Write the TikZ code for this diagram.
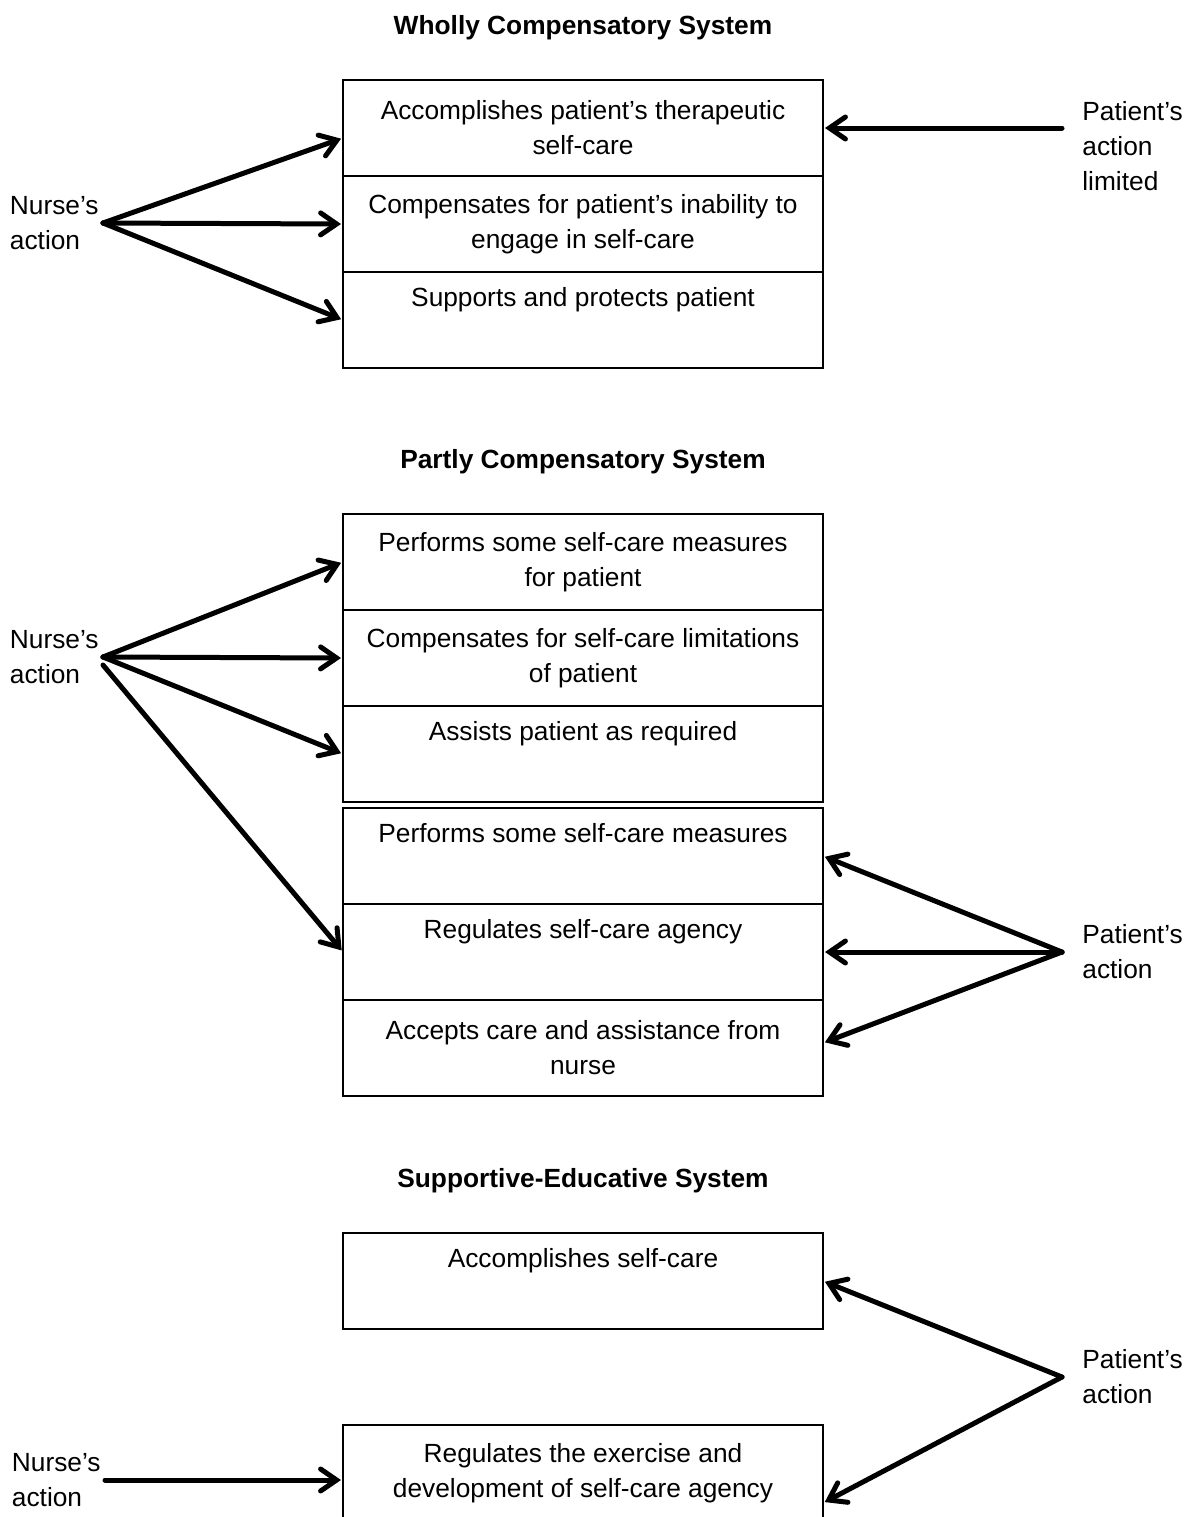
\documentclass[tikz,border=0pt]{standalone}
\usepackage{fontspec}
\setmainfont{Liberation Sans}
\usepackage{tikz}
\usetikzlibrary{positioning}
\usetikzlibrary{arrows.meta}

\begin{document}
\begin{tikzpicture}[x=0.5pt, y=-0.5pt, shorten >=1pt, node distance=48pt, on grid,
      every node/.style={font=\fontsize{13.15pt}{17.5pt}\selectfont},
      cell/.style={draw, line width=0.85pt, minimum width=240pt, minimum height=48pt,
        inner sep=0pt, outer sep=0pt, align=center},
      ttl/.style={font=\fontsize{13.15pt}{17.5pt}\selectfont\bfseries, inner sep=0pt},
      side/.style={align=left, inner sep=0pt},
      arr/.style={line width=2.5pt, line cap=round,
        -{Straight Barb[length=8pt, width=11pt, line cap=round]}}]

      \useasboundingbox (0,0) rectangle (1190,1517);

      % wholly compensatory
      \node[cell] (a1) at (583,128) {Accomplishes patient's therapeutic\\self-care};
      \node[cell] (a2) [below=of a1] {Compensates for patient's inability to\\engage in self-care};
      \node[cell] (a3) [below=of a2] {Supports and protects patient\\\strut};
      \node[ttl] (ta) [above=50pt of a1] {Wholly Compensatory System};

      \coordinate (nfA) at (103,223);
      \coordinate (pfA) at (1062,128);
      \node[side, anchor=east] (nurseA) at ([xshift=-2pt]nfA) {Nurse's\\action};
      \node[side, anchor=west] (patA) at ([xshift=10pt, yshift=-9pt]pfA) {Patient's\\action\\limited};

      % partly compensatory
      \node[cell] (b1) at (583,562) {Performs some self-care measures\\for patient};
      \node[cell] (b2) [below=of b1] {Compensates for self-care limitations\\of patient};
      \node[cell] (b3) [below=of b2] {Assists patient as required\\\strut};
      \node[cell] (b4) [below=51pt of b3] {Performs some self-care measures\\\strut};
      \node[cell] (b5) [below=of b4] {Regulates self-care agency\\\strut};
      \node[cell] (b6) [below=of b5] {Accepts care and assistance from\\nurse};
      \node[ttl] (tb) [above=50pt of b1] {Partly Compensatory System};

      \coordinate (nfB) at (103,657);
      \coordinate (pfB) at (1062,952);
      \node[side, anchor=east] (nurseB) at ([xshift=-2pt]nfB) {Nurse's\\action};
      \node[side, anchor=west] (patB) at ([xshift=10pt]pfB) {Patient's\\action};

      % supportive-educative
      \node[cell] (c1) at (583,1281) {Accomplishes self-care\\\strut};
      \node[cell] (c2) [below=96pt of c1] {Regulates the exercise and\\development of self-care agency};
      \node[ttl] (tc) [above=50pt of c1] {Supportive-Educative System};

      \coordinate (nfC) at (105,1480);
      \coordinate (pfC) at (1062,1377);
      \node[side, anchor=east] (nurseC) at ([xshift=-2pt]nfC) {Nurse's\\action};
      \node[side, anchor=west] (patC) at ([xshift=10pt]pfC) {Patient's\\action};

      \path[arr]
        (nfA) edge ([yshift=-5pt]a1.west)
        (nfA) edge (a2.west)
        (nfA) edge (a3.west)
        (pfA) edge (a1.east)

        (nfB) edge (b1.west)
        (nfB) edge (b2.west)
        (nfB) edge (b3.west)
        ([yshift=-4pt]nfB) edge (b5.west)
        (pfB) edge (b4.east)
        (pfB) edge (b5.east)
        (pfB) edge ([yshift=2.5pt]b6.east)

        (pfC) edge (c1.east)
        (pfC) edge ([yshift=-15pt]c2.east)
        (nfC) edge ([yshift=-3.5pt]c2.west);

\end{tikzpicture}
\end{document}
